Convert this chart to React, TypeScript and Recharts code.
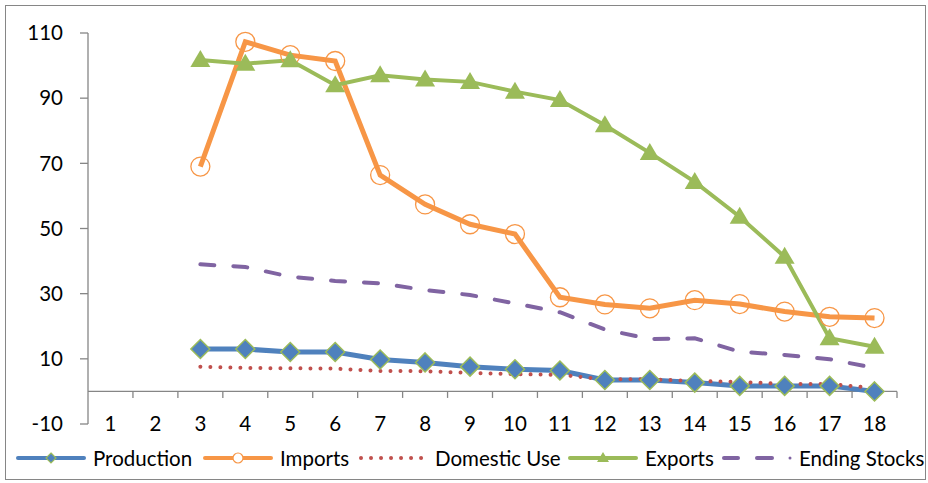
import { Line, LineChart, ReferenceLine, XAxis, YAxis } from "recharts"

const categories = [1, 2, 3, 4, 5, 6, 7, 8, 9, 10, 11, 12, 13, 14, 15, 16, 17, 18]
const production = [null, null, 13, 13, 12.1, 12.1, 9.8, 8.9, 7.6, 6.8, 6.4, 3.5, 3.5, 2.7, 1.7, 1.7, 1.7, 0]
const imports = [null, null, 69, 107.3, 103.2, 101.4, 66.4, 57.4, 51.3, 48.3, 28.9, 26.7, 25.5, 28, 26.8, 24.5, 22.9, 22.5]
const domesticUse = [null, null, 7.6, 7.2, 7.1, 7.0, 6.3, 6.2, 5.7, 5.3, 5.1, 3.7, 3.7, 3.2, 2.9, 2.3, 2.3, 1.0]
const exportsValues = [null, null, 101.7, 100.6, 101.6, 94, 97, 95.7, 95, 92, 89.4, 81.7, 73.2, 64.3, 53.6, 41.3, 16.3, 13.7]
const endingStocks = [null, null, 39, 38.2, 35.2, 33.9, 33.2, 31.1, 29.6, 27.0, 24.3, 19.0, 16.1, 16.3, 12.2, 11.2, 9.9, 7.2]
const yTicks = [-10, 10, 30, 50, 70, 90, 110]

const data = categories.map((c, i) => ({
  c,
  production: production[i],
  imports: imports[i],
  domesticUse: domesticUse[i],
  exports: exportsValues[i],
  endingStocks: endingStocks[i],
}))

// boundaries between categories, for the short ticks hanging off the zero line
const boundaries = categories.slice(1).map((c) => c - 0.5).concat([categories.length + 0.5])

const BLUE = "#4f81bd"
const ORANGE = "#f79646"
const RED = "#c0504d"
const GREEN = "#9bbb59"
const PURPLE = "#8064a2"
const AXIS = "#868686"
const FONT = "Lato, 'Open Sans', sans-serif"

function Diamond(props: any) {
  const { cx, cy, value, index } = props
  if (value == null || cy == null) return <g key={index} />
  const r = 9.5
  return (
    <polygon
      key={index}
      points={`${cx},${cy - r} ${cx + r},${cy} ${cx},${cy + r} ${cx - r},${cy}`}
      fill={BLUE}
      stroke={GREEN}
      strokeWidth={1.5}
    />
  )
}

function Ring(props: any) {
  const { cx, cy, value, index } = props
  if (value == null || cy == null) return <g key={index} />
  return <circle key={index} cx={cx} cy={cy} r={9.5} fill="none" stroke={ORANGE} strokeWidth={1.3} />
}

function Triangle(props: any) {
  const { cx, cy, value, index } = props
  if (value == null || cy == null) return <g key={index} />
  return (
    <polygon
      key={index}
      points={`${cx},${cy - 10} ${cx + 10},${cy + 7} ${cx - 10},${cy + 7}`}
      fill={GREEN}
    />
  )
}

function CategoryTick(props: any) {
  const { x, y, payload } = props
  return (
    <text x={x} y={y} dy="0.36em" textAnchor="middle" fontSize={20.5} fontFamily={FONT} fill="#000">
      {payload.value}
    </text>
  )
}

function LegendItem(props: { left: number; label: string; kind: string }) {
  const sym = () => {
    switch (props.kind) {
      case "production":
        return (
          <>
            <line x1={2} y1={8} x2={68} y2={8} stroke={BLUE} strokeWidth={4} strokeLinecap="round" />
            <polygon points="35,3 40,8 35,13 30,8" fill={BLUE} stroke={GREEN} strokeWidth={1.2} />
          </>
        )
      case "imports":
        return (
          <>
            <line x1={2} y1={8} x2={68} y2={8} stroke={ORANGE} strokeWidth={4} strokeLinecap="round" />
            <circle cx={35} cy={8} r={5} fill="#fff" stroke={ORANGE} strokeWidth={1.2} />
          </>
        )
      case "domestic":
        return (
          <line x1={3} y1={8} x2={64} y2={8} stroke={RED} strokeWidth={4} strokeDasharray="0.01 10" strokeLinecap="round" />
        )
      case "exports":
        return (
          <>
            <line x1={2} y1={8} x2={68} y2={8} stroke={GREEN} strokeWidth={4} strokeLinecap="round" />
            <polygon points="35,2 41,12 29,12" fill={GREEN} />
          </>
        )
      default:
        return (
          <>
            <line x1={2} y1={8} x2={16} y2={8} stroke={PURPLE} strokeWidth={4} strokeLinecap="round" />
            <line x1={35} y1={8} x2={50} y2={8} stroke={PURPLE} strokeWidth={4} strokeLinecap="round" />
            <circle cx={68} cy={8} r={1.5} fill={PURPLE} />
          </>
        )
    }
  }
  return (
    <div style={{ position: "absolute", left: props.left, top: 450, display: "flex", alignItems: "center" }}>
      <svg width={70} height={16}>{sym()}</svg>
      <span style={{ marginLeft: 7, fontSize: 20.5, fontFamily: FONT, color: "#000", lineHeight: "16px" }}>
        {props.label}
      </span>
    </div>
  )
}

export default function App() {
  return (
    <div style={{ position: "absolute", left: 0, top: 0, width: 928, height: 483, background: "#fff" }}>
      <div
        style={{
          position: "absolute",
          left: 5,
          top: 5,
          width: 921,
          height: 475,
          border: `1px solid ${AXIS}`,
          boxSizing: "border-box",
        }}
      />
      <LineChart
        width={928}
        height={483}
        data={data}
        margin={{ top: 33, right: 31, bottom: 29, left: 8 }}
        style={{ position: "absolute", left: 0, top: 0 }}
      >
        <XAxis
          dataKey="c"
          type="number"
          domain={[0.5, 18.5]}
          ticks={categories}
          interval={0}
          height={30}
          axisLine={false}
          tickLine={false}
          tickSize={0}
          tickMargin={0}
          tick={<CategoryTick />}
        />
        <YAxis
          domain={[-10, 110]}
          ticks={yTicks}
          width={80}
          interval={0}
          axisLine={{ stroke: AXIS, strokeWidth: 1.3 }}
          tickLine={{ stroke: AXIS, strokeWidth: 1.3 }}
          tickSize={8}
          tickMargin={17}
          tick={{ fontSize: 20.5, fontFamily: FONT, fill: "#000" }}
        />
        <ReferenceLine y={0} stroke={AXIS} strokeWidth={1.3} ifOverflow="visible" />
        {boundaries.map((b) => (
          <ReferenceLine
            key={b}
            segment={[
              { x: b, y: 0 },
              { x: b, y: -2 },
            ]}
            stroke={AXIS}
            strokeWidth={1.3}
          />
        ))}
        <Line
          dataKey="production"
          stroke={BLUE}
          strokeWidth={5}
          dot={<Diamond />}
          activeDot={false}
          isAnimationActive={false}
        />
        <Line
          dataKey="imports"
          stroke={ORANGE}
          strokeWidth={5}
          dot={<Ring />}
          activeDot={false}
          isAnimationActive={false}
        />
        <Line
          dataKey="domesticUse"
          stroke={RED}
          strokeWidth={4}
          strokeDasharray="0.01 10"
          strokeLinecap="round"
          dot={false}
          activeDot={false}
          isAnimationActive={false}
        />
        <Line
          dataKey="exports"
          stroke={GREEN}
          strokeWidth={4}
          dot={<Triangle />}
          activeDot={false}
          isAnimationActive={false}
        />
        <Line
          dataKey="endingStocks"
          stroke={PURPLE}
          strokeWidth={4}
          strokeDasharray="14 19"
          strokeLinecap="round"
          dot={false}
          activeDot={false}
          isAnimationActive={false}
        />
      </LineChart>
      <LegendItem left={16} label="Production" kind="production" />
      <LegendItem left={203} label="Imports" kind="imports" />
      <LegendItem left={358} label="Domestic Use" kind="domestic" />
      <LegendItem left={568} label="Exports" kind="exports" />
      <LegendItem left={722} label="Ending Stocks" kind="stocks" />
    </div>
  )
}
